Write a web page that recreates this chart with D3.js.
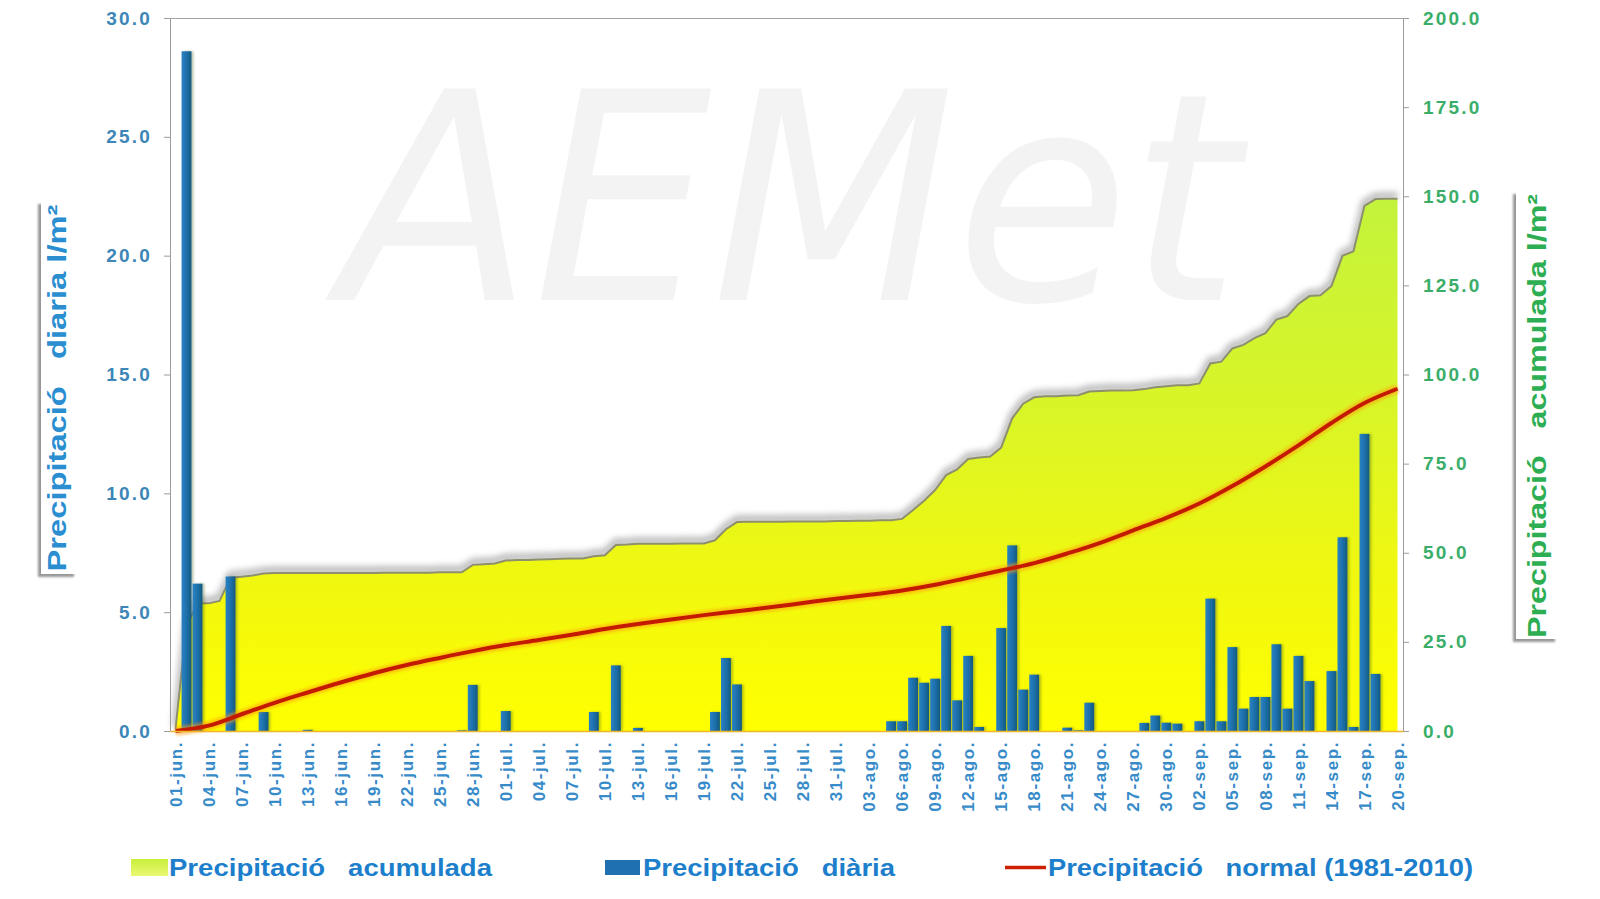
<!DOCTYPE html>
<html>
<head>
<meta charset="utf-8">
<title>Precipitació</title>
<script src="https://cdnjs.cloudflare.com/ajax/libs/d3/7.8.5/d3.min.js"></script>
<style>
	body { margin: 0; background: #fff; }
	#chart1 { width: 1600px; height: 899px; }
	.tick text { font-family: 'Liberation Sans', Arial, sans-serif; font-weight: bold; }
</style>
</head>
<body>
<div id="chart1"></div>
<script>

// months on the category axis
var months    = ['jun.', 'jul.', 'ago.', 'sep.'];

// daily precipitation (l/m2), one value per day
var dailyJun = [0, 28.6, 6.2, 0, 0, 6.5, 0, 0, 0.8, 0, 0, 0, 0.05, 0, 0, 0, 0, 0, 0, 0, 0, 0, 0, 0, 0, 0, 0.03, 1.94, 0, 0];
var dailyJul = [0.84, 0, 0, 0, 0, 0, 0, 0, 0.8, 0, 2.76, 0, 0.13, 0, 0, 0, 0, 0, 0, 0.8, 3.07, 1.96, 0, 0, 0, 0, 0, 0, 0, 0, 0];
var dailyAgo = [0, 0, 0, 0, 0.41, 0.41, 2.24, 2.03, 2.2, 4.42, 1.29, 3.16, 0.17, 0, 4.33, 7.81, 1.74, 2.37, 0, 0, 0.14, 0.03, 1.19, 0, 0, 0, 0, 0.34, 0.65, 0.35, 0.31];
var dailySep = [0, 0.41, 5.57, 0.41, 3.53, 0.94, 1.43, 1.43, 3.65, 0.94, 3.16, 2.1, 0, 2.52, 8.15, 0.17, 12.5, 2.4, 0, 0];

// accumulated precipitation (l/m2)
var cumJun = [0.5, 29.5, 35.8, 35.8, 36.5, 43.0, 43.3, 43.6, 44.2, 44.3, 44.3, 44.3, 44.3, 44.3, 44.3, 44.3, 44.3, 44.3, 44.3, 44.4, 44.4, 44.4, 44.4, 44.4, 44.5, 44.5, 44.5, 46.6, 46.8, 47.0];
var cumJul = [47.8, 48.0, 48.0, 48.1, 48.2, 48.3, 48.4, 48.4, 49.0, 49.3, 52.2, 52.3, 52.5, 52.5, 52.5, 52.5, 52.6, 52.6, 52.6, 53.5, 56.6, 58.6, 58.7, 58.7, 58.7, 58.7, 58.8, 58.8, 58.8, 58.8, 58.9];
var cumAgo = [58.9, 59.0, 59.0, 59.1, 59.1, 59.5, 62.0, 64.6, 67.6, 71.8, 73.4, 76.3, 76.7, 77.0, 79.5, 87.7, 91.8, 93.6, 93.9, 93.9, 94.1, 94.2, 95.2, 95.4, 95.5, 95.5, 95.6, 95.9, 96.4, 96.7, 97.0];
var cumSep = [97.0, 97.5, 103.1, 103.6, 107.3, 108.3, 110.2, 111.6, 115.4, 116.4, 119.8, 122.0, 122.2, 124.8, 133.3, 134.6, 147.3, 149.2, 149.3, 149.3];

// normal 1981-2010 accumulated (l/m2), read on every labelled day (01-jun, 04-jun, ...)
var normalLabelled = [0, 1.5, 4.7, 7.9, 10.8, 13.6, 16.2, 18.5, 20.5, 22.4, 24.1, 25.5, 27.0, 28.6, 30.0, 31.3, 32.5, 33.6, 34.7, 35.9,
	37.1, 38.2, 39.4, 41.0, 43.0, 45.0, 47.1, 49.8, 52.8, 56.3, 59.8, 63.8, 68.7, 74.2, 80.1, 86.4, 92.0, 96.0];

// axis ticks
var leftTicks  = [0, 5, 10, 15, 20, 25, 30];
var rightTicks = [0, 25, 50, 75, 100, 125, 150, 175, 200];

var leftTitle  = 'Precipitació   diaria l/m²';
var rightTitle = 'Precipitació   acumulada l/m²';
var legendLabels = ['Precipitació   acumulada', 'Precipitació   diària', 'Precipitació   normal (1981-2010)'];

drawChart();

function drawChart() {

	var dailyAll = [dailyJun, dailyJul, dailyAgo, dailySep];
	var cumAll   = [cumJun, cumJul, cumAgo, cumSep];
	var fmt2 = d3.format('02d');

	// one row per day
	var days = [];
	months.forEach(function(m, k) {
		dailyAll[k].forEach(function(v, i) {
			days.push({ label: fmt2(i + 1) + '-' + m, daily: v, cum: cumAll[k][i] });
		});
	});
	var labelled = days.filter(function(d, i) { return i % 3 == 0; });
	var normal = labelled.map(function(d, i) { return { label: d.label, value: normalLabelled[i] }; });

	var left = 170, right = 1403, top = 18, bottom = 731;

	var svg = d3.select('#chart1')
				.append('svg')
				.attr('width', 1600)
				.attr('height', 899)
				.style('font-family', "'Liberation Sans', Arial, sans-serif");

	var defs = svg.append('defs');

	var grad = defs.append('linearGradient')
				.attr('id', 'accGrad')
				.attr('gradientUnits', 'userSpaceOnUse')
				.attr('x1', 0).attr('x2', 0).attr('y1', 195).attr('y2', bottom);
	[['0', '#c3f33c'], ['0.4', '#d9f527'], ['0.72', '#f1f80f'], ['1', '#ffff00']].forEach(function(s) {
		grad.append('stop').attr('offset', s[0]).attr('stop-color', s[1]);
	});

	var barGrad = defs.append('linearGradient').attr('id', 'barGrad');
	[['0', '#2a82c4'], ['0.55', '#1c6ea8'], ['1', '#155a7c']].forEach(function(s) {
		barGrad.append('stop').attr('offset', s[0]).attr('stop-color', s[1]);
	});

	var legGrad = defs.append('linearGradient').attr('id', 'legGrad')
				.attr('x1', 0).attr('x2', 0).attr('y1', 0).attr('y2', 1);
	legGrad.append('stop').attr('offset', '0').attr('stop-color', '#c9ef3c');
	legGrad.append('stop').attr('offset', '1').attr('stop-color', '#e9f872');

	defs.append('filter').attr('id', 'boxShadow')
		.attr('x', '-30%').attr('y', '-10%').attr('width', '160%').attr('height', '120%')
		.append('feDropShadow')
		.attr('dx', -3).attr('dy', 3).attr('stdDeviation', 1.2)
		.attr('flood-color', '#8c8c8c').attr('flood-opacity', 0.9);

	defs.append('filter').attr('id', 'softBlur')
		.attr('x', '-5%').attr('y', '-20%').attr('width', '110%').attr('height', '140%')
		.append('feGaussianBlur').attr('stdDeviation', 3);

	defs.append('filter').attr('id', 'glow')
		.attr('x', '-5%').attr('y', '-20%').attr('width', '110%').attr('height', '140%')
		.append('feGaussianBlur').attr('stdDeviation', 1.6);

	defs.append('filter').attr('id', 'barShadow')
		.attr('x', '-50%').attr('y', '-5%').attr('width', '200%').attr('height', '110%')
		.append('feDropShadow')
		.attr('dx', 2).attr('dy', 0).attr('stdDeviation', 1)
		.attr('flood-color', '#3d5a14').attr('flood-opacity', 0.35);

	// very faint watermark behind everything
	svg.append('text')
		.attr('class', 'watermark')
		.attr('aria-hidden', 'true')
		.attr('x', 340).attr('y', 300)
		.attr('font-size', 290)
		.attr('textLength', 900)
		.attr('lengthAdjust', 'spacingAndGlyphs')
		.style('font-family', "'DejaVu Sans', sans-serif")
		.style('font-style', 'italic')
		.attr('fill', '#c8c8c8')
		.attr('opacity', 0.2)
		.text('AEMet');

	// scales
	var x = d3.scaleBand()
				.domain(days.map(function(d) { return d.label; }))
				.range([left, right])
				.paddingInner(0.1)
				.paddingOuter(0.05);
	var cx = function(label) { return x(label) + x.bandwidth() / 2; };

	var yL = d3.scaleLinear().domain([0, 30]).range([bottom, top]);
	var yR = d3.scaleLinear().domain([0, 200]).range([bottom, top]);

	// accumulated area
	var area = d3.area()
				.x(function(d) { return cx(d.label); })
				.y0(bottom)
				.y1(function(d) { return yR(d.cum); });
	var edge = d3.line()
				.x(function(d) { return cx(d.label); })
				.y(function(d) { return yR(d.cum); });

	svg.append('path')
		.attr('d', edge(days))
		.attr('transform', 'translate(0,-3)')
		.attr('fill', 'none')
		.attr('stroke', '#9a9a9a')
		.attr('stroke-width', 7)
		.attr('opacity', 0.7)
		.attr('filter', 'url(#softBlur)');

	svg.append('path')
		.attr('d', area(days))
		.attr('fill', 'url(#accGrad)');

	svg.append('path')
		.attr('d', edge(days))
		.attr('fill', 'none')
		.attr('stroke', '#8e8f6c')
		.attr('stroke-width', 2);

	// daily bars
	svg.append('g')
		.attr('filter', 'url(#barShadow)')
		.selectAll('rect')
		.data(days.filter(function(d) { return d.daily > 0; }))
		.enter()
		.append('rect')
		.attr('x', function(d) { return x(d.label); })
		.attr('width', x.bandwidth())
		.attr('y', function(d) { return yL(d.daily); })
		.attr('height', function(d) { return bottom - yL(d.daily); })
		.attr('fill', 'url(#barGrad)');

	// normal line
	var normLine = d3.line()
				.x(function(d) { return cx(d.label); })
				.y(function(d) { return yR(d.value); })
				.curve(d3.curveMonotoneX);

	svg.append('path')
		.attr('d', normLine(normal))
		.attr('fill', 'none')
		.attr('stroke', '#ff9a10')
		.attr('stroke-width', 9)
		.attr('opacity', 0.55)
		.attr('filter', 'url(#glow)');
	svg.append('path')
		.attr('d', normLine(normal))
		.attr('fill', 'none')
		.attr('stroke', '#c41a00')
		.attr('stroke-width', 4);

	// frame top
	svg.append('line')
		.attr('x1', left).attr('x2', right)
		.attr('y1', top + 0.5).attr('y2', top + 0.5)
		.attr('stroke', '#a4a4a4');

	// axes
	var axL = svg.append('g')
				.attr('transform', 'translate(' + left + ',0)')
				.call(d3.axisLeft(yL).tickValues(leftTicks).tickFormat(d3.format('.1f'))
						.tickSize(6).tickSizeOuter(0).tickPadding(12));
	axL.selectAll('text').attr('fill', '#3c86b8').style('font-size', '19px').style('letter-spacing', '2.2px');

	var axR = svg.append('g')
				.attr('transform', 'translate(' + right + ',0)')
				.call(d3.axisRight(yR).tickValues(rightTicks).tickFormat(d3.format('.1f'))
						.tickSize(6).tickSizeOuter(0).tickPadding(14));
	axR.selectAll('text').attr('fill', '#3aae68').style('font-size', '19px').style('letter-spacing', '2.2px');

	[axL, axR].forEach(function(ax) {
		ax.select('.domain').attr('stroke', '#9c9c9c');
		ax.selectAll('.tick line').attr('stroke', '#9c9c9c');
	});

	var axB = svg.append('g')
				.attr('transform', 'translate(0,' + bottom + ')')
				.call(d3.axisBottom(x).tickValues(labelled.map(function(d) { return d.label; }))
						.tickSize(0).tickSizeOuter(0));
	axB.select('.domain').attr('stroke', '#f0b52a').attr('stroke-width', 1.5);
	axB.selectAll('text')
		.attr('transform', 'rotate(-90)')
		.attr('text-anchor', 'end')
		.attr('x', -10)
		.attr('y', 0)
		.attr('dy', '0.36em')
		.attr('fill', '#378bc9')
		.style('font-size', '17px')
		.style('letter-spacing', '1.6px');

	// axis titles with their shadowed boxes
	svg.append('rect').attr('x', 41).attr('y', 201).attr('width', 36).attr('height', 373)
		.attr('fill', '#fff').attr('filter', 'url(#boxShadow)');
	svg.append('rect').attr('x', 1516).attr('y', 191).attr('width', 42).attr('height', 448)
		.attr('fill', '#fff').attr('filter', 'url(#boxShadow)');

	svg.append('text')
		.attr('transform', 'translate(57,388) rotate(-90)')
		.attr('text-anchor', 'middle')
		.attr('dy', '0.35em')
		.attr('textLength', 367)
		.attr('lengthAdjust', 'spacingAndGlyphs')
		.style('white-space', 'pre')
		.style('font-size', '25px')
		.style('font-weight', 'bold')
		.attr('fill', '#2a8ed0')
		.text(leftTitle);

	svg.append('text')
		.attr('transform', 'translate(1537,416) rotate(-90)')
		.attr('text-anchor', 'middle')
		.attr('dy', '0.35em')
		.attr('textLength', 444)
		.attr('lengthAdjust', 'spacingAndGlyphs')
		.style('white-space', 'pre')
		.style('font-size', '25px')
		.style('font-weight', 'bold')
		.attr('fill', '#2eae52')
		.text(rightTitle);

	// legend
	var legX = [131, 605, 1005];
	var legLen = [323, 252, 425];
	var legend = svg.append('g');
	legend.append('rect').attr('x', legX[0]).attr('y', 859).attr('width', 37).attr('height', 17).attr('fill', 'url(#legGrad)');
	legend.append('rect').attr('x', legX[1]).attr('y', 860).attr('width', 35).attr('height', 15).attr('fill', '#1f70b0');
	legend.append('line').attr('x1', legX[2]).attr('x2', legX[2] + 41).attr('y1', 867.5).attr('y2', 867.5)
		.attr('stroke', '#cc2000').attr('stroke-width', 3.5);

	legend.selectAll('text')
		.data(legendLabels)
		.enter()
		.append('text')
		.attr('x', function(d, i) { return legX[i] + (i == 2 ? 43 : 38); })
		.attr('y', 876)
		.attr('textLength', function(d, i) { return legLen[i]; })
		.attr('lengthAdjust', 'spacingAndGlyphs')
		.style('white-space', 'pre')
		.style('font-size', '23px')
		.style('font-weight', 'bold')
		.attr('fill', '#1d7fcc')
		.text(function(d) { return d; });
}
</script>
</body>
</html>
